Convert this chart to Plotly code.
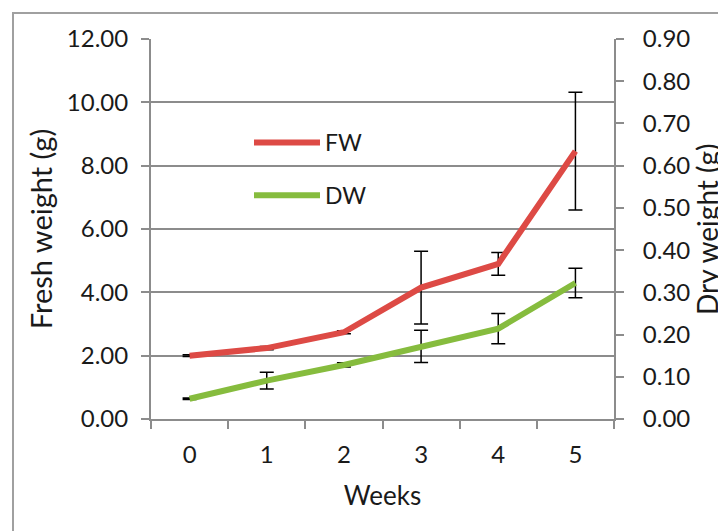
import plotly.graph_objects as go

weeks = ["0", "1", "2", "3", "4", "5"]
fw = [2.00, 2.24, 2.74, 4.15, 4.90, 8.46]
fw_err = [0.03, 0.05, 0.05, 1.15, 0.36, 1.86]
dw = [0.048, 0.091, 0.128, 0.172, 0.214, 0.322]
dw_err = [0.002, 0.02, 0.005, 0.038, 0.036, 0.035]

left_ticks = [0, 2, 4, 6, 8, 10, 12]
right_ticks = [0, 0.1, 0.2, 0.3, 0.4, 0.5, 0.6, 0.7, 0.8, 0.9]

# page body has an 8px margin, so work in window pixels and offset
OFF = 8
W, H = 726 - OFF, 531 - OFF
L, R, T, B = 151 - OFF, 112, 39 - OFF, 112
pw, ph = W - L - R, H - T - B

def px(x):
    return (x - OFF - L) / pw

def py(y):
    return (H - B - (y - OFF)) / ph

FONT = "Lato"
GRID = "#8c8c8c"

fig = go.Figure()
fig.add_trace(go.Scatter(
    x=weeks, y=fw, name="FW", mode="lines", legendgroup="a",
    line=dict(color="#DD4A45", width=6),
    error_y=dict(type="data", array=fw_err, color="black", thickness=1.5, width=7),
))
fig.add_trace(go.Scatter(
    x=weeks, y=dw, name="DW", mode="lines", yaxis="y2", legendgroup="b",
    line=dict(color="#86BC3E", width=6),
    error_y=dict(type="data", array=dw_err, color="black", thickness=1.5, width=7),
))

fig.update_layout(
    width=W, height=H,
    margin=dict(l=L, r=R, t=T, b=B, autoexpand=False),
    paper_bgcolor="white", plot_bgcolor="white",
    font=dict(family=FONT, size=24, color="#1a1a1a"),
    xaxis=dict(
        type="category", range=[-0.5, 5.5], tickson="boundaries", ticks="outside",
        ticklen=8, tickwidth=2, tickcolor=GRID, showline=True, linecolor=GRID,
        linewidth=2, showgrid=False, ticklabelstandoff=13,
        title=dict(text="Weeks", font=dict(size=26), standoff=20),
    ),
    yaxis=dict(
        range=[0, 12], tickvals=left_ticks, tickformat=".2f", ticks="outside",
        ticklen=8, tickwidth=2, tickcolor=GRID, showline=True, linecolor=GRID,
        linewidth=2, showgrid=True, gridcolor=GRID, gridwidth=2, zeroline=False,
        ticklabelstandoff=8,
        title=dict(text="Fresh weight (g)", font=dict(size=29), standoff=6),
    ),
    yaxis2=dict(
        range=[0, 0.9], tickvals=right_ticks, tickformat=".2f", overlaying="y",
        side="right", ticks="outside", ticklen=8, tickwidth=2, tickcolor=GRID,
        showline=True, linecolor=GRID, linewidth=2, showgrid=False, zeroline=False,
        ticklabelstandoff=14,
    ),
    annotations=[dict(
        text="Dry weight (g)", textangle=-90, xref="paper", yref="paper",
        x=px(707), y=py(229), xanchor="center", yanchor="middle",
        showarrow=False, font=dict(size=28),
    )],
    legend=dict(
        x=px(249), y=py(121), xanchor="left", yanchor="top",
        bgcolor="rgba(0,0,0,0)", font=dict(size=23),
        traceorder="grouped", tracegroupgap=20, itemwidth=66,
    ),
    showlegend=True,
    shapes=[dict(
        type="rect", xref="paper", yref="paper",
        x0=px(13), x1=px(760), y0=py(560), y1=py(13),
        line=dict(color="#a0a0a0", width=2), layer="below",
    )],
)

fig.write_html("out.html")
